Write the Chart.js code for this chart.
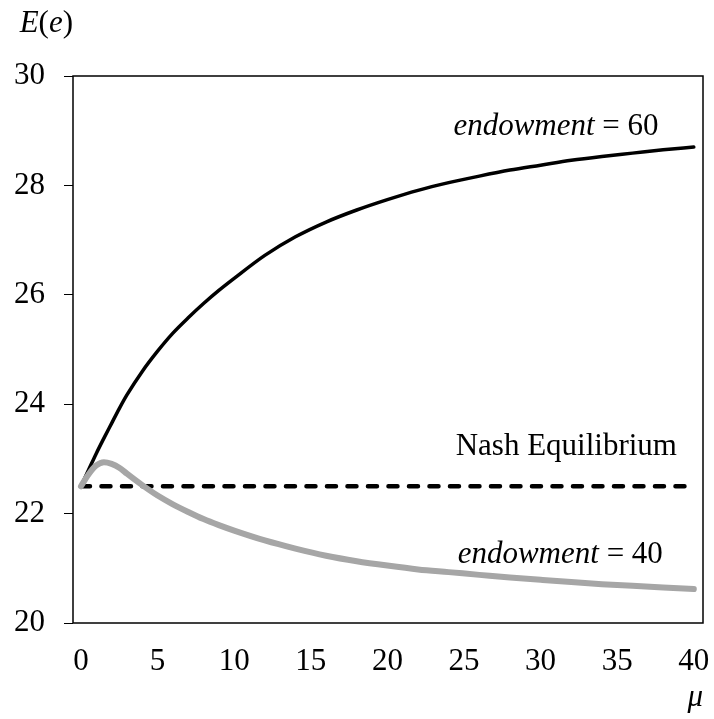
<!DOCTYPE html>
<html>
<head>
<meta charset="utf-8">
<script src="https://cdn.jsdelivr.net/npm/chart.js@4"></script>
<style>
	html, body { margin: 0; padding: 0; background: #fff; }
	#wrap { width: 714px; height: 719px; }
</style>
</head>
<body>
<div id="wrap"><canvas id="myChart"></canvas></div>
<script>
// values
var mu = [0, 0.5, 1, 1.5, 2, 2.5, 3, 4, 5, 6, 7, 8, 9, 10, 12, 14, 16, 18, 20, 22, 24, 26, 28, 30, 32, 34, 36, 38, 40];
var endow60 = [22.5, 22.8, 23.1, 23.38, 23.65, 23.92, 24.17, 24.6, 24.97, 25.3, 25.58, 25.84, 26.08, 26.3, 26.72, 27.06, 27.33, 27.55, 27.74, 27.91, 28.05, 28.17, 28.28, 28.37, 28.46, 28.53, 28.59, 28.65, 28.7];
var endow40 = [22.5, 22.72, 22.88, 22.94, 22.91, 22.84, 22.73, 22.52, 22.33, 22.17, 22.03, 21.9, 21.79, 21.69, 21.51, 21.36, 21.23, 21.13, 21.05, 20.98, 20.93, 20.88, 20.83, 20.79, 20.75, 20.71, 20.68, 20.65, 20.62];
var nashMu = [0, 40];
var nashValues = [22.5, 22.5];
var xTicks = [0, 5, 10, 15, 20, 25, 30, 35, 40];
var yTicks = [20, 22, 24, 26, 28, 30];

var FONT = '"Liberation Serif", "Times New Roman", serif';

function toPoints(xs, ys) {
	return xs.map(function (x, i) { return { x: x, y: ys[i] }; });
}

// draw text made of italic / upright pieces, right aligned
function drawParts(ctx, parts, xRight, yBase, size) {
	var total = 0;
	parts.forEach(function (p) {
		ctx.font = (p[1] ? 'italic ' : '') + size + 'px ' + FONT;
		total += ctx.measureText(p[0]).width;
	});
	var x = xRight - total;
	ctx.textAlign = 'left';
	ctx.textBaseline = 'alphabetic';
	ctx.fillStyle = '#000';
	parts.forEach(function (p) {
		ctx.font = (p[1] ? 'italic ' : '') + size + 'px ' + FONT;
		ctx.fillText(p[0], x, yBase);
		x += ctx.measureText(p[0]).width;
	});
}

var boxAndText = {
	id: 'boxAndText',
	afterDraw: function (chart) {
		var ctx = chart.ctx;
		var a = chart.chartArea;
		var xs = chart.scales.x, ys = chart.scales.y;
		ctx.save();
		ctx.strokeStyle = '#000';
		ctx.lineWidth = 1.5;
		ctx.strokeRect(a.left, a.top, a.right - a.left, a.bottom - a.top);

		// curve labels, anchored in data units
		drawParts(ctx, [['endowment', true], [' = 60', false]], xs.getPixelForValue(37.7), ys.getPixelForValue(28.92), 31);
		drawParts(ctx, [['Nash Equilibrium', false]], xs.getPixelForValue(38.9), ys.getPixelForValue(23.07), 31);
		drawParts(ctx, [['endowment', true], [' = 40', false]], xs.getPixelForValue(37.98), ys.getPixelForValue(21.1), 31);

		// axis titles
		drawParts(ctx, [['E', true], ['(', false], ['e', true], [')', false]], a.left, a.top - 44, 31);
		drawParts(ctx, [['μ', true]], a.right, a.bottom + 83, 31);
		ctx.restore();
	}
};

const ctx = document.getElementById('myChart');
const myChart = new Chart(ctx, {
	type: 'line',
	data: {
		datasets: [
			{
				label: 'endowment = 40',
				data: toPoints(mu, endow40),
				borderColor: '#a6a6a6',
				borderWidth: 6,
				borderCapStyle: 'round',
				pointRadius: 0,
				cubicInterpolationMode: 'monotone',
				order: 0
			},
			{
				label: 'endowment = 60',
				data: toPoints(mu, endow60),
				borderColor: '#000',
				borderWidth: 3.5,
				borderCapStyle: 'round',
				pointRadius: 0,
				cubicInterpolationMode: 'monotone',
				order: 1
			},
			{
				label: 'Nash Equilibrium',
				data: toPoints(nashMu, nashValues),
				borderColor: '#000',
				borderWidth: 4.5,
				borderDash: [9, 11.5],
				borderCapStyle: 'round',
				pointRadius: 0,
				order: 2
			}
		]
	},
	options: {
		responsive: true,
		maintainAspectRatio: false,
		devicePixelRatio: 1,
		animation: false,
		layout: { padding: { left: 0, right: 11, top: 76, bottom: 0 } },
		plugins: {
			legend: { display: false },
			tooltip: { enabled: false }
		},
		scales: {
			x: {
				type: 'linear',
				min: -0.52,
				max: 40.6,
				afterBuildTicks: function (scale) {
					scale.ticks = xTicks.map(function (v) { return { value: v }; });
				},
				afterFit: function (scale) {
					scale.height = 96;
					scale.paddingLeft = 0;
					scale.paddingRight = 0;
				},
				grid: { display: false, drawTicks: false },
				border: { display: false },
				ticks: {
					color: '#000',
					padding: 20,
					maxRotation: 0,
					font: { family: FONT, size: 31 }
				}
			},
			y: {
				min: 20,
				max: 30,
				afterBuildTicks: function (scale) {
					scale.ticks = yTicks.map(function (v) { return { value: v }; });
				},
				afterFit: function (scale) {
					scale.width = 73;
					scale.paddingTop = 0;
					scale.paddingBottom = 0;
				},
				grid: {
					display: true,
					drawOnChartArea: false,
					drawTicks: true,
					tickLength: 9,
					color: '#000',
					lineWidth: 1
				},
				border: { display: false },
				ticks: {
					color: '#000',
					padding: 19,
					font: { family: FONT, size: 31 }
				}
			}
		}
	},
	plugins: [boxAndText]
});
</script>
</body>
</html>
